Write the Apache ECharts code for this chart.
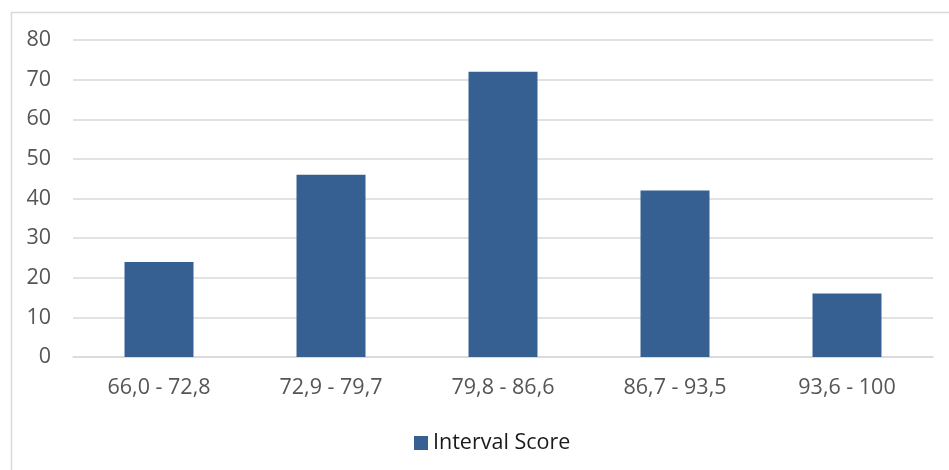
<!DOCTYPE html>
<html>
<head>
<meta charset="utf-8">
<script src="https://cdn.jsdelivr.net/npm/echarts@6/dist/echarts.min.js"></script>
<style>
  html, body { margin: 0; padding: 0; background: #fff; }
  #chart { width: 949px; height: 470px; }
</style>
</head>
<body>
<div id="chart"></div>
<script>
// Score intervals and the number of results in each
const categories = ['66,0 - 72,8', '72,9 - 79,7', '79,8 - 86,6', '86,7 - 93,5', '93,6 - 100'];
const counts = [24, 46, 72, 42, 16];
const seriesName = 'Interval Score';

const font = '"Open Sans", "Noto Sans", sans-serif';
const chart = echarts.init(document.getElementById('chart'), null, { renderer: 'canvas' });

chart.setOption({
  backgroundColor: '#ffffff',
  animation: false,
  graphic: [{
    type: 'rect',
    left: 9, top: 10,
    shape: { x: 0, y: 0, width: 960, height: 480 },
    style: { fill: 'none', stroke: '#d9d9d9', lineWidth: 1.5 },
    silent: true
  }],
  grid: { left: 73, right: 16, top: 40, bottom: 113, containLabel: false },
  legend: {
    data: [seriesName],
    top: 432,
    left: 414,
    padding: 0,
    icon: 'rect',
    itemWidth: 14,
    itemHeight: 14,
    itemGap: 5,
    textStyle: { fontFamily: font, fontSize: 21.5, color: '#1a1a1a' }
  },
  xAxis: {
    type: 'category',
    data: categories,
    axisLine: { show: true, lineStyle: { color: '#d9d9d9', width: 1.5 } },
    axisTick: { show: false },
    axisLabel: { fontFamily: font, fontSize: 21.5, color: '#555555', margin: 20 }
  },
  yAxis: {
    type: 'value',
    min: 0, max: 80, interval: 10,
    axisLine: { show: false },
    axisTick: { show: false },
    splitLine: { lineStyle: { color: '#d9d9d9', width: 1.5 } },
    axisLabel: { fontFamily: font, fontSize: 21.5, color: '#555555', margin: 22 }
  },
  series: [{
    name: seriesName,
    type: 'bar',
    data: counts,
    barWidth: 69,
    itemStyle: { color: '#366092' }
  }]
});
</script>
</body>
</html>
